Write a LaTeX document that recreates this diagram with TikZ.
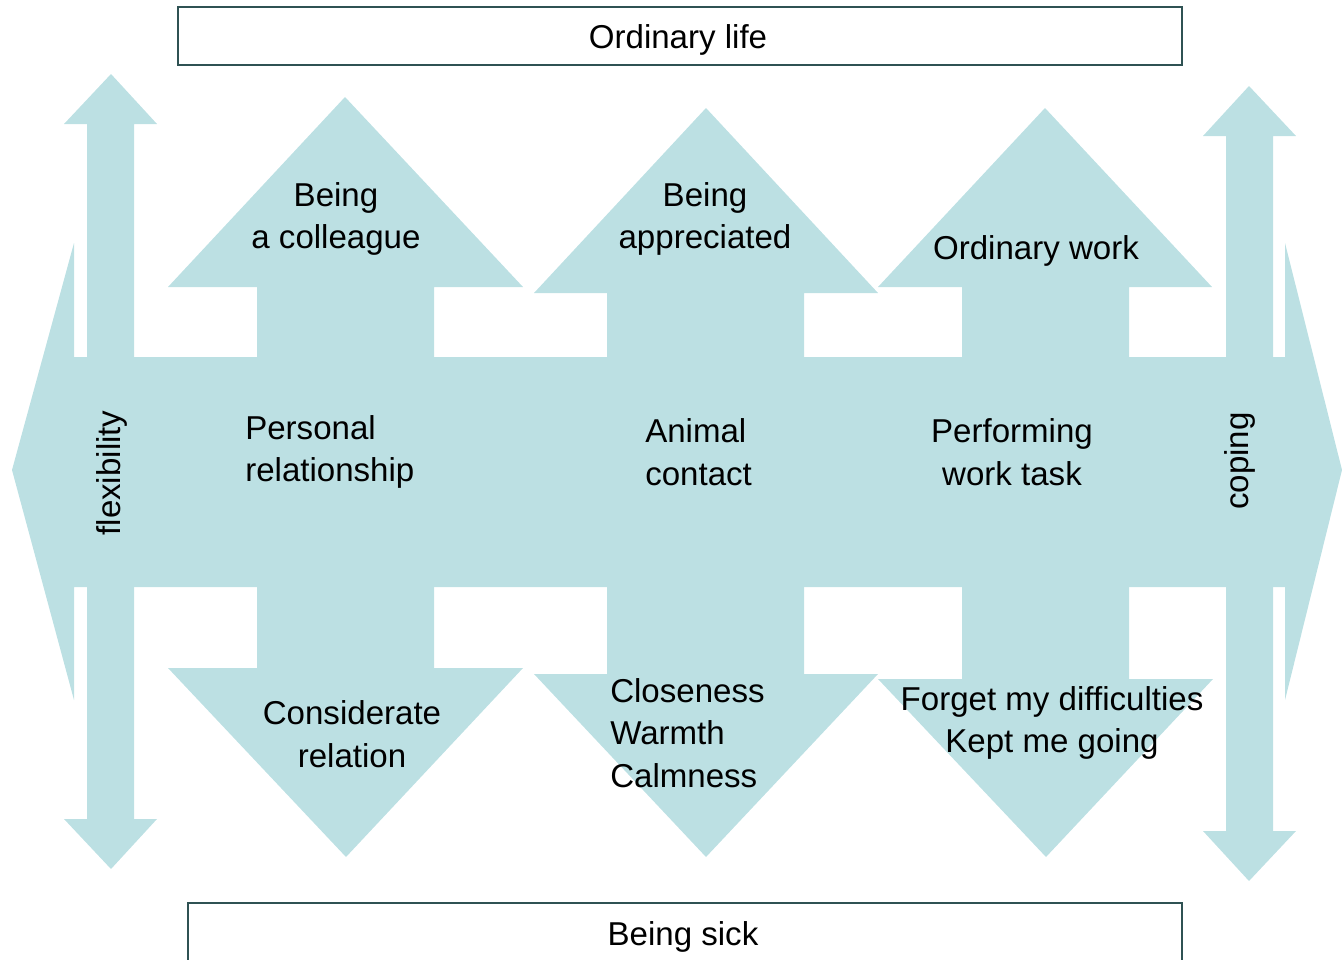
\documentclass[tikz,border=0pt]{standalone}
\usepackage{fontspec}
\setmainfont{Liberation Sans}
\usepackage{tikz}
\definecolor{arrowblue}{RGB}{188,224,227}
\definecolor{boxline}{RGB}{47,82,83}

\begin{document}
\begin{tikzpicture}[x=0.75pt,y=-0.75pt,
  txt/.style={inner sep=0pt,font=\fontsize{24.8}{32}\selectfont}]
\useasboundingbox (0,0) rectangle (1342,960);

\fill [arrowblue] (12,470) -- (74,243) -- (74,357) -- (1285,357) -- (1285,243) -- (1342,470) -- (1285,700) -- (1285,587) -- (74,587) -- (74,700) -- cycle;
\fill [arrowblue] (111,74) -- (157,124) -- (134,124) -- (134,819) -- (157,819) -- (111,869) -- (64,819) -- (87,819) -- (87,124) -- (64,124) -- cycle;
\fill [arrowblue] (1249,86) -- (1296,136) -- (1273,136) -- (1273,831) -- (1296,831) -- (1249,881) -- (1203,831) -- (1226,831) -- (1226,136) -- (1203,136) -- cycle;

\fill [arrowblue] (345,97) -- (523,287) -- (434,287) -- (434,360) -- (257,360) -- (257,287) -- (168,287) -- cycle;
\fill [arrowblue] (706,108) -- (878,293) -- (804,293) -- (804,360) -- (607,360) -- (607,293) -- (534,293) -- cycle;
\fill [arrowblue] (1045,108) -- (1212,287) -- (1129,287) -- (1129,360) -- (962,360) -- (962,287) -- (878,287) -- cycle;

\fill [arrowblue] (257,580) -- (434,580) -- (434,668) -- (523,668) -- (346,857) -- (168,668) -- (257,668) -- cycle;
\fill [arrowblue] (607,580) -- (804,580) -- (804,674) -- (878,674) -- (706,857) -- (534,674) -- (607,674) -- cycle;
\fill [arrowblue] (962,580) -- (1129,580) -- (1129,679) -- (1213,679) -- (1046,857) -- (878,679) -- (962,679) -- cycle;

\draw [boxline, line width=1.5pt] (178,7) rectangle (1182,65);
\draw [boxline, line width=1.5pt] (188,960) -- (188,903) -- (1182,903) -- (1182,960);

\node [txt] (life) at (678,40) {Ordinary life};
\node [txt] (sick) at (683,937) {Being sick};

\node [txt, align=center] (colleague) at (336,219) {Being\\a colleague};
\node [txt, align=center] (appreciated) at (705,219) {Being\\appreciated};
\node [txt] (work) at (1036,251) {Ordinary work};

\node [txt, align=left, anchor=west] (personal) at (245,452) {Personal\\relationship};
\node [txt, align=left, anchor=west] (animal) at (645,452) {Animal\\contact};
\node [txt, align=center] (task) at (1012,452) {Performing\\work task};

\node [txt, align=center] (considerate) at (352,734) {Considerate\\relation};
\node [txt, align=left, anchor=west] (closeness) at (610,733) {Closeness\\Warmth\\Calmness};
\node [txt, align=center] (forget) at (1052,723) {Forget my difficulties\\Kept me going};

\node [txt, rotate=90] (flexibility) at (112,473) {flexibility};
\node [txt, rotate=90] (coping) at (1240,461) {coping};

\end{tikzpicture}
\end{document}
